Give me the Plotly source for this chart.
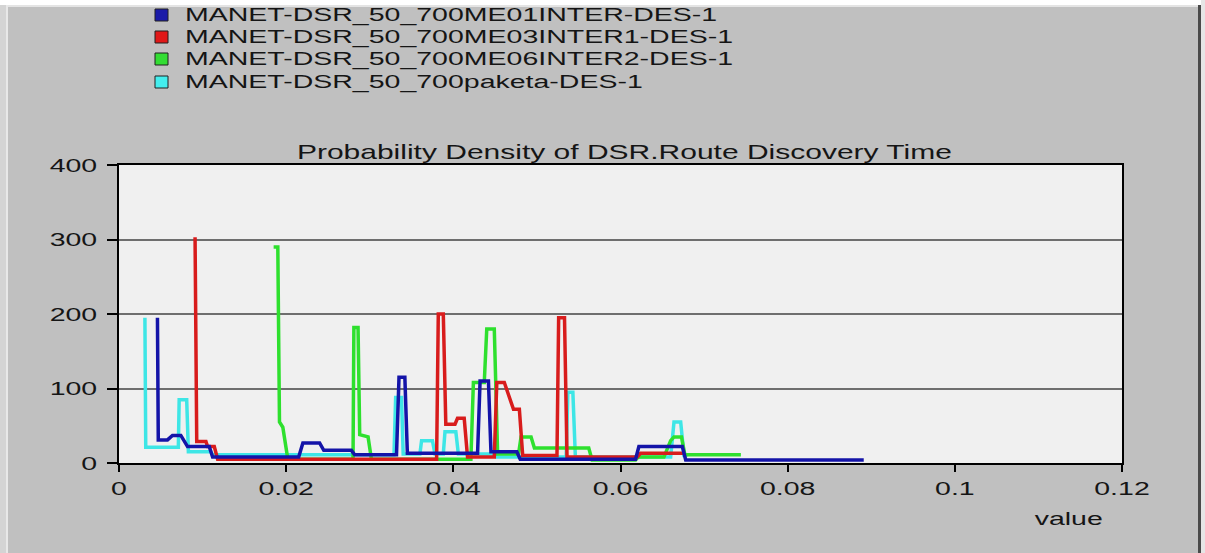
import plotly.graph_objects as go

# Series names
names = [
    "MANET-DSR_50_700ME01INTER-DES-1",
    "MANET-DSR_50_700ME03INTER1-DES-1",
    "MANET-DSR_50_700ME06INTER2-DES-1",
    "MANET-DSR_50_700paketa-DES-1",
]

# Probability density curves (value, density)
blue_x = [0.0046, 0.0047, 0.0058, 0.0064, 0.0074, 0.0082, 0.0085, 0.0108, 0.0112, 0.0215,
          0.0220, 0.0240, 0.0245, 0.0278, 0.0282, 0.0332, 0.0335, 0.0342, 0.0345, 0.0429,
          0.0432, 0.0442, 0.0445, 0.0476, 0.0480, 0.0618, 0.0622, 0.0674, 0.0678, 0.0891]
blue_y = [195, 31, 31, 37, 37, 22, 22, 22, 8, 8,
          27, 27, 17, 17, 11, 11, 115, 115, 13, 13,
          110, 110, 15, 15, 5, 5, 22, 22, 4, 4]

red_x = [0.0091, 0.0093, 0.0104, 0.0106, 0.0114, 0.0118, 0.0380, 0.0382, 0.0388, 0.0391,
         0.0402, 0.0405, 0.0413, 0.0417, 0.0449, 0.0452, 0.0461, 0.0466, 0.0472, 0.0479,
         0.0483, 0.0524, 0.0526, 0.0533, 0.0536, 0.0620, 0.0624, 0.0675]
red_y = [303, 29, 29, 22, 22, 5, 5, 200, 200, 52,
         52, 60, 60, 8, 8, 108, 108, 92, 72, 72,
         10, 10, 195, 195, 8, 8, 13, 13]

green_x = [0.0185, 0.0190, 0.0192, 0.0196, 0.0202, 0.0280, 0.0281, 0.0286, 0.0288, 0.0298,
           0.0302, 0.0421, 0.0424, 0.0437, 0.0440, 0.0449, 0.0453, 0.0478, 0.0481, 0.0493,
           0.0497, 0.0562, 0.0566, 0.0618, 0.0621, 0.0652, 0.0660, 0.0664, 0.0673, 0.0677,
           0.0744]
green_y = [290, 290, 55, 48, 5, 5, 182, 182, 38, 35,
           5, 5, 108, 108, 180, 180, 12, 12, 35, 35,
           20, 20, 4, 4, 8, 8, 30, 35, 35, 11,
           11]

cyan_x = [0.0031, 0.0032, 0.0071, 0.0072, 0.0081, 0.0083, 0.0110, 0.0112, 0.0329, 0.0331,
          0.0338, 0.0340, 0.0360, 0.0362, 0.0375, 0.0378, 0.0388, 0.0390, 0.0403, 0.0406,
          0.0450, 0.0452, 0.0535, 0.0537, 0.0543, 0.0546, 0.0660, 0.0664, 0.0672, 0.0676,
          0.0680]
cyan_y = [195, 21, 21, 85, 85, 15, 15, 11, 11, 88,
          88, 12, 12, 30, 30, 12, 12, 42, 42, 12,
          12, 8, 8, 95, 95, 8, 8, 55, 55, 10,
          10]

colors = ["#1414a8", "#d81c1c", "#2ee02e", "#3ee6e6"]
square_fill = ["#1a1aa8", "#e01818", "#33dd33", "#44eeee"]

x_ticks = [0, 0.02, 0.04, 0.06, 0.08, 0.1, 0.12]
x_ticktext = ["0", "0.02", "0.04", "0.06", "0.08", "0.1", "0.12"]
y_ticks = [0, 100, 200, 300, 400]

title_text = "Probability Density of DSR.Route Discovery Time"
x_label = "value"

FONT = "Liberation Sans, Arial, sans-serif"
TEXT_COLOR = "#151515"
W, H = 1205, 553
L, R, T, B = 119, 1122, 165, 463   # plot area in pixels


def px(x):
    return (x - L) / (R - L)


def py(y):
    return (B - y) / (B - T)


fig = go.Figure()
series = [(cyan_x, cyan_y, 3), (green_x, green_y, 2), (red_x, red_y, 1), (blue_x, blue_y, 0)]
for xs, ys, i in series:
    fig.add_trace(go.Scatter(
        x=xs, y=ys, mode="lines", name=names[i],
        line=dict(color=colors[i], width=3.5), showlegend=False,
    ))

shapes = []
annotations = []


def band(x0, x1, y0, y1, color):
    shapes.append(dict(type="rect", xref="paper", yref="paper", layer="below",
                       x0=px(x0), x1=px(x1), y0=py(y1), y1=py(y0),
                       fillcolor=color, line=dict(width=0)))


# window frame around the chart panel
band(-5, W + 5, -5, 5, "#ffffff")
band(-5, W + 5, 5, 7, "#e4e4e4")
band(-5, 6, 5, H + 5, "#d4d4d4")
band(6, 8, 5, H + 5, "#e8e8e8")
band(1198, 1201, 5, H + 5, "#4a4a4a")
band(1201, W + 5, 0, H + 5, "#e6e6e6")

# legend: colour squares with series names
row_y = [15, 37, 59, 82]
for i, name in enumerate(names):
    yc = row_y[i]
    shapes.append(dict(type="rect", xref="paper", yref="paper",
                       x0=px(155), x1=px(168), y0=py(yc + 6), y1=py(yc - 6),
                       fillcolor=square_fill[i], line=dict(color="#202020", width=1)))
    annotations.append(dict(xref="paper", yref="paper", x=px(183), y=py(yc),
                            xanchor="left", yanchor="middle", showarrow=False,
                            text=name, font=dict(family=FONT, size=19, color=TEXT_COLOR)))

annotations.append(dict(xref="paper", yref="paper", x=px(624), y=py(152),
                        xanchor="center", yanchor="middle", showarrow=False,
                        text=title_text, font=dict(family=FONT, size=20, color=TEXT_COLOR)))
annotations.append(dict(xref="paper", yref="paper", x=px(1068), y=py(518),
                        xanchor="center", yanchor="middle", showarrow=False,
                        text=x_label, font=dict(family=FONT, size=19, color=TEXT_COLOR)))

fig.update_layout(
    width=W, height=H,
    margin=dict(l=L, r=W - R, t=T, b=H - B, pad=0),
    paper_bgcolor="#c0c0c0",
    plot_bgcolor="#f0f0f0",
    shapes=shapes,
    annotations=annotations,
    showlegend=False,
    xaxis=dict(
        range=[0, 0.12], tickvals=x_ticks, ticktext=x_ticktext,
        showgrid=False, zeroline=False,
        showline=True, linecolor="#000000", linewidth=2, mirror=True,
        ticks="outside", ticklen=7, tickwidth=2, tickcolor="#000000",
        tickfont=dict(family=FONT, size=19, color=TEXT_COLOR),
    ),
    yaxis=dict(
        range=[0, 400], tickvals=y_ticks,
        showgrid=True, gridcolor="#6e6e6e", gridwidth=1.5, zeroline=False,
        showline=True, linecolor="#000000", linewidth=2, mirror=True,
        ticks="outside", ticklen=10, tickwidth=2, tickcolor="#000000",
        ticklabelstandoff=6,
        tickfont=dict(family=FONT, size=19, color=TEXT_COLOR),
    ),
)

# The chart's lettering is drawn wide (horizontally stretched); widen each
# text run about its anchor once the plot has rendered.
widen_text = """
var gd = document.getElementById('{plot_id}');
var S = 1.5;
function widen(el, mode) {
  if (!el) { return; }
  var bb = el.getBBox();
  var p = mode === 'start' ? bb.x : (mode === 'end' ? bb.x + bb.width : bb.x + bb.width / 2);
  var t = el.getAttribute('transform') || '';
  el.setAttribute('transform', t + ' translate(' + p + ',0) scale(' + S + ',1) translate(' + (-p) + ',0)');
}
gd.querySelectorAll('.xtick text').forEach(function (el) { widen(el, 'middle'); });
gd.querySelectorAll('.ytick text').forEach(function (el) { widen(el, 'end'); });
gd.querySelectorAll('g.annotation').forEach(function (g) {
  var i = +g.getAttribute('data-index');
  widen(g.querySelector('text'), i < 4 ? 'start' : 'middle');
});
"""

fig.write_html("out.html", post_script=widen_text)
